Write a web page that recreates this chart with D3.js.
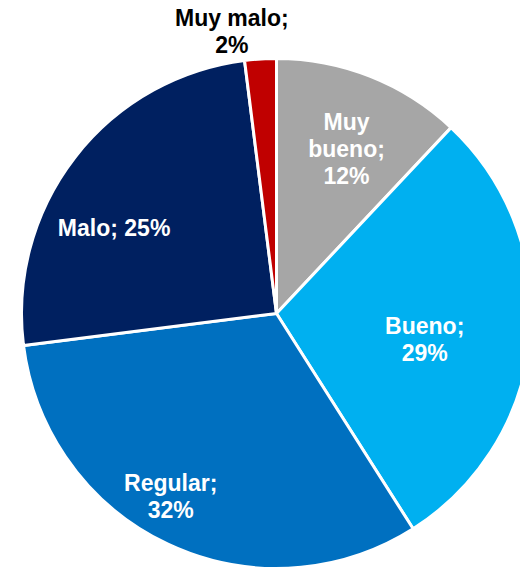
<!DOCTYPE html>
<html>
<head>
<meta charset="utf-8">
<script src="https://cdn.jsdelivr.net/npm/d3@7"></script>
<style>
  html, body { margin: 0; padding: 0; background: #fff; }
  svg { display: block; }
</style>
</head>
<body>
<div id="chart"></div>
<script>
// ---- data ----
const categories = ["Muy bueno", "Bueno", "Regular", "Malo", "Muy malo"];
const values = [12, 29, 32, 25, 2];
const colors = ["#A6A6A6", "#00B0F0", "#0070C0", "#002060", "#C00000"];
const labelColors = ["#FFFFFF", "#FFFFFF", "#FFFFFF", "#FFFFFF", "#000000"];

// ---- layout ----
const W = 520, H = 568;
const cx = 276.5, cy = 313.5, R = 255;
// label placement: [radius fraction, angle shift in degrees] per slice (best-fit like the original)
const labelLayout = [[0.70, 1.5], [0.59, 4.5], [0.83, 4.8], [0.72, -10], [1.12, -5.4]];
// label line breaks
const labelLines = [["Muy", "bueno;", "12%"], ["Bueno;", "29%"], ["Regular;", "32%"], ["Malo; 25%"], ["Muy malo;", "2%"]];

const svg = d3.select("#chart").append("svg").attr("width", W).attr("height", H);
const g = svg.append("g").attr("transform", `translate(${cx},${cy})`);

const pie = d3.pie().sort(null).value(d => d).startAngle(0).endAngle(2 * Math.PI);
const arcs = pie(values);
const arc = d3.arc().innerRadius(0).outerRadius(R);

g.selectAll("path.slice").data(arcs).enter().append("path")
  .attr("class", "slice")
  .attr("d", arc)
  .attr("fill", (d, i) => colors[i])
  .attr("stroke", "#fff")
  .attr("stroke-width", 3)
  .attr("stroke-linejoin", "miter");

const fontSize = 23, lineH = 27;
arcs.forEach((d, i) => {
  const [rf, shift] = labelLayout[i];
  const a = (d.startAngle + d.endAngle) / 2 + shift * Math.PI / 180;
  const r = R * rf;
  const x = Math.sin(a) * r, y = -Math.cos(a) * r;
  const lines = labelLines[i];
  const t = g.append("text")
    .attr("text-anchor", "middle")
    .attr("font-family", "Liberation Sans, Arial, sans-serif")
    .attr("font-weight", "bold")
    .attr("font-size", fontSize)
    .attr("fill", labelColors[i]);
  const y0 = y - (lines.length - 1) * lineH / 2 + fontSize * 0.35;
  lines.forEach((ln, k) => {
    t.append("tspan").attr("x", x).attr("y", y0 + k * lineH).text(ln);
  });
});
</script>
</body>
</html>
